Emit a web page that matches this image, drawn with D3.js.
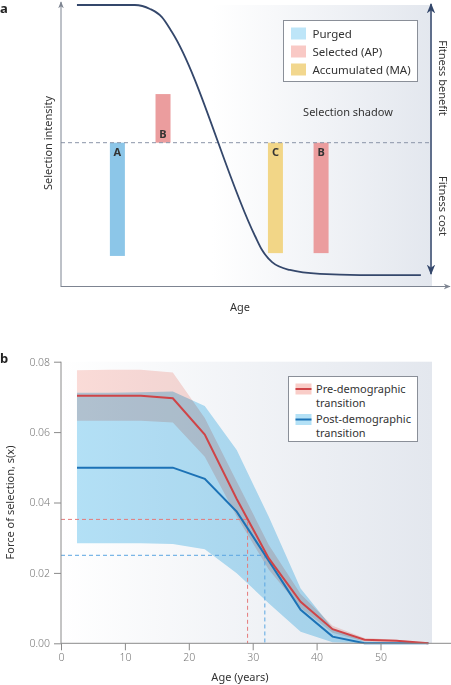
<!DOCTYPE html>
<html>
<head>
<meta charset="utf-8">
<script src="https://cdn.jsdelivr.net/npm/d3@7"></script>
<style>
  body { margin: 0; background: #fff; }
  svg { display: block; font-family: "Noto Sans", "Open Sans", sans-serif; }
</style>
</head>
<body>
<div class="fig"></div>
<script>
// ---- panel a (schematic) ----
const curveX = [4.3, 19.9, 24, 27.2, 29.9, 52.3, 54.2, 56.9, 61.7, 69.8, 80.6, 97];
const curveY = [100, 100, 98.6, 95.7, 90.4, 17.8, 12.8, 8.5, 5.7, 4.3, 3.9, 3.9];
const barLabels = ["A", "B", "C", "B"];
const barKinds = ["Purged", "Selected (AP)", "Accumulated (MA)", "Selected (AP)"];
const barCenters = [15.2, 27.5, 57.8, 70.1];
const barEnds = [10.7, 68.3, 11.7, 11.7];
const neutral = 51;
const legendA = ["Purged", "Selected (AP)", "Accumulated (MA)"];

// ---- panel b (force of selection) ----
const ages = [2.5, 7.5, 12.5, 17.5, 22.5, 27.5, 32.5, 37.5, 42.5, 47.5, 52.5, 57.5];
const preMean = [0.0703, 0.0703, 0.0703, 0.0696, 0.0593, 0.041, 0.0242, 0.0118, 0.004, 0.001, 0.0007, 0];
const preLow  = [0.0632, 0.0632, 0.0632, 0.0627, 0.053, 0.036, 0.021, 0.010, 0.003, 0.0005, 0.0003, 0];
const preHigh = [0.0776, 0.0777, 0.0777, 0.0769, 0.064, 0.046, 0.028, 0.014, 0.005, 0.0015, 0.001, 0];
const postMean = [0.0499, 0.0499, 0.0499, 0.0499, 0.0467, 0.0374, 0.0235, 0.0095, 0.0019, 0, 0, 0];
const postLow  = [0.0284, 0.0284, 0.0284, 0.0282, 0.0267, 0.0199, 0.0114, 0.0033, 0.0003, 0, 0, 0];
const postHigh = [0.0712, 0.0712, 0.0713, 0.0715, 0.0674, 0.0549, 0.036, 0.0156, 0.0043, 0.0005, 0.0002, 0];
const thresholdS = [0.0352, 0.025];
const thresholdAge = [29.2, 31.9];
const legendB = ["Pre-demographic", "Post-demographic"];
const yTicks = [0, 0.02, 0.04, 0.06, 0.08];
const xTicks = [0, 10, 20, 30, 40, 50];

const colors = {
  "Purged": "#8cc6e8", "Selected (AP)": "#eb9d9e", "Accumulated (MA)": "#f2d687"
};
const swatchA = ["#bde5f8", "#f9c9c5", "#f2d78e"];
const red = "#cf4447", blue = "#1c72b6";
const navy = "#34476b";
const fs = '11px';

const svg = d3.select('.fig').append('svg')
    .attr('width', 451)
    .attr('height', 685);

const defs = svg.append('defs');
function fade(id, x1, x2) {
  const g = defs.append('linearGradient').attr('id', id)
      .attr('gradientUnits', 'userSpaceOnUse')
      .attr('x1', x1).attr('x2', x2).attr('y1', 0).attr('y2', 0);
  g.append('stop').attr('offset', 0).attr('stop-color', '#ffffff');
  g.append('stop').attr('offset', 1).attr('stop-color', '#e3e7ee');
}
fade('shadeA', 212, 432);
fade('shadeB', 61, 432);

function arrowHead(id, color) {
  defs.append('marker').attr('id', id)
      .attr('viewBox', '0 0 10 10').attr('refX', 9).attr('refY', 5)
      .attr('markerWidth', 7).attr('markerHeight', 7)
      .attr('orient', 'auto-start-reverse')
      .append('path').attr('d', 'M0,1 L10,5 L0,9 L3,5 Z').attr('fill', color);
}
arrowHead('arrGrey', '#7d8491');
arrowHead('arrNavy', navy);

// ===== panel a =====
const xa = d3.scaleLinear().domain([0, 100]).range([61, 432]);
const ya = d3.scaleLinear().domain([0, 100]).range([286, 5]);

const ga = svg.append('g');
ga.append('rect').attr('x', 212).attr('y', ya(100)).attr('width', 432 - 212)
    .attr('height', ya(0) - ya(100)).attr('fill', 'url(#shadeA)');

ga.append('text').attr('x', 0).attr('y', 13).text('a')
    .style('font-weight', 'bold').style('font-size', '13px').attr('fill', '#222');

// bars
ga.selectAll('rect.bar').data(barLabels).join('rect').attr('class', 'bar')
    .attr('x', (d, i) => xa(barCenters[i]) - 7.5)
    .attr('width', 15)
    .attr('y', (d, i) => ya(Math.max(neutral, barEnds[i])))
    .attr('height', (d, i) => Math.abs(ya(barEnds[i]) - ya(neutral)))
    .attr('fill', (d, i) => colors[barKinds[i]]);

ga.selectAll('text.bl').data(barLabels).join('text').attr('class', 'bl')
    .attr('x', (d, i) => xa(barCenters[i]))
    .attr('y', (d, i) => barEnds[i] > neutral ? ya(neutral) - 5 : ya(neutral) + 13)
    .attr('text-anchor', 'middle')
    .style('font-size', '11px').style('font-weight', 'bold').attr('fill', '#333')
    .text(d => d);

// neutral dashed line
ga.append('line').attr('x1', xa(0)).attr('x2', 432)
    .attr('y1', ya(neutral)).attr('y2', ya(neutral))
    .attr('stroke', '#8a94a8').attr('stroke-width', 1).attr('stroke-dasharray', '4,3');

// curve
const lineA = d3.line().x((d, i) => xa(curveX[i])).y((d, i) => ya(curveY[i]))
    .curve(d3.curveMonotoneX);
ga.append('path').attr('d', lineA(curveX)).attr('fill', 'none')
    .attr('stroke', navy).attr('stroke-width', 1.8);

// axes with arrows
ga.append('line').attr('x1', xa(0)).attr('x2', xa(0)).attr('y1', 287).attr('y2', 2)
    .attr('stroke', '#7d8491').attr('stroke-width', 1).attr('marker-end', 'url(#arrGrey)');
ga.append('line').attr('x1', xa(0)).attr('x2', 450).attr('y1', 286.5).attr('y2', 286.5)
    .attr('stroke', '#7d8491').attr('stroke-width', 1).attr('marker-end', 'url(#arrGrey)');

// fitness double arrow
ga.append('line').attr('x1', 431).attr('x2', 431).attr('y1', 4).attr('y2', 274)
    .attr('stroke', navy).attr('stroke-width', 1.5)
    .attr('marker-start', 'url(#arrNavy)').attr('marker-end', 'url(#arrNavy)');

ga.append('text').attr('transform', 'translate(439,78) rotate(90)')
    .attr('text-anchor', 'middle').style('font-size', fs).attr('fill', '#333')
    .text('Fitness benefit');
ga.append('text').attr('transform', 'translate(439,206) rotate(90)')
    .attr('text-anchor', 'middle').style('font-size', fs).attr('fill', '#333')
    .text('Fitness cost');

ga.append('text').attr('transform', 'translate(52,143) rotate(-90)')
    .attr('text-anchor', 'middle').style('font-size', fs).attr('fill', '#333')
    .text('Selection intensity');
ga.append('text').attr('x', 240).attr('y', 311).attr('text-anchor', 'middle')
    .style('font-size', fs).attr('fill', '#333').text('Age');

ga.append('text').attr('x', 348).attr('y', 116).attr('text-anchor', 'middle')
    .style('font-size', fs).attr('fill', '#333').text('Selection shadow');

// legend a
const lga = ga.append('g').attr('transform', 'translate(283.5,20.5)');
lga.append('rect').attr('width', 134).attr('height', 61)
    .attr('fill', '#fff').attr('stroke', '#8a8f98');
lga.selectAll('rect.sw').data(legendA).join('rect').attr('class', 'sw')
    .attr('x', 7.5).attr('y', (d, i) => 7 + i * 18).attr('width', 15).attr('height', 12)
    .attr('fill', (d, i) => swatchA[i]);
lga.selectAll('text').data(legendA).join('text')
    .attr('x', 29).attr('y', (d, i) => 17 + i * 18)
    .style('font-size', '11.5px').attr('fill', '#333').text(d => d);

// ===== panel b =====
const xb = d3.scaleLinear().domain([0, 58]).range([61, 61 + 58 * 6.39]);
const yb = d3.scaleLinear().domain([0, 0.08]).range([643.3, 361.7]);

const gb = svg.append('g');
gb.append('rect').attr('x', 61).attr('y', yb(0.08)).attr('width', 432 - 61)
    .attr('height', yb(0) - yb(0.08)).attr('fill', 'url(#shadeB)');

gb.append('text').attr('x', 0).attr('y', 363).text('b')
    .style('font-weight', 'bold').style('font-size', '13px').attr('fill', '#222');

const area = (lo, hi) => d3.area()
    .x((d, i) => xb(ages[i])).y0((d, i) => yb(lo[i])).y1((d, i) => yb(hi[i]));

const bands = gb.append('g');
bands.append('path').attr('d', area(preLow, preHigh)(ages))
    .attr('fill', '#fbdcd8').style('mix-blend-mode', 'multiply');
bands.append('path').attr('d', area(postLow, postHigh)(ages))
    .attr('fill', '#b4e1f6').style('mix-blend-mode', 'multiply');

// threshold dashed lines
['#e57a7a', '#5aa6e2'].forEach((col, k) => {
  gb.append('path')
      .attr('d', `M${xb(0)},${yb(thresholdS[k])}H${xb(thresholdAge[k])}V${yb(0)}`)
      .attr('fill', 'none').attr('stroke', col).attr('stroke-width', 1)
      .attr('stroke-dasharray', '4,3');
});

const lineB = ys => d3.line().x((d, i) => xb(ages[i])).y((d, i) => yb(ys[i]));
gb.append('path').attr('d', lineB(postMean)(ages)).attr('fill', 'none')
    .attr('stroke', blue).attr('stroke-width', 2);
gb.append('path').attr('d', lineB(preMean)(ages)).attr('fill', 'none')
    .attr('stroke', red).attr('stroke-width', 2);

// axes
const yAxisB = d3.axisLeft(yb).tickValues(yTicks).tickFormat(d3.format('.2f'))
    .tickSize(7).tickPadding(4);
const xAxisB = d3.axisBottom(xb).tickValues(xTicks).tickSize(7).tickPadding(3);

const yAx = gb.append('g').attr('transform', 'translate(61,0)').call(yAxisB);
const xAx = gb.append('g').attr('transform', `translate(0,${yb(0)})`).call(xAxisB);
[yAx, xAx].forEach(ax => {
  ax.select('.domain').remove();
  ax.selectAll('line').attr('stroke', '#8a8a8a');
  ax.selectAll('text').attr('fill', '#777').style('font-size', '10.5px')
      .style('font-family', '"Noto Sans", sans-serif').style('font-weight', 300);
});
gb.append('line').attr('x1', 61).attr('x2', 61).attr('y1', yb(0.08)).attr('y2', yb(0))
    .attr('stroke', '#8a8a8a');
gb.append('line').attr('x1', 61).attr('x2', 451).attr('y1', yb(0)).attr('y2', yb(0))
    .attr('stroke', '#8a8a8a');

gb.append('text').attr('transform', `translate(14,${(yb(0) + yb(0.08)) / 2}) rotate(-90)`)
    .attr('text-anchor', 'middle').style('font-size', fs).attr('fill', '#333')
    .text('Force of selection, s(x)');
gb.append('text').attr('x', 240).attr('y', 681).attr('text-anchor', 'middle')
    .style('font-size', fs).attr('fill', '#333').text('Age (years)');

// legend b
const lgb = gb.append('g').attr('transform', 'translate(288.5,376.5)');
lgb.append('rect').attr('width', 129).attr('height', 65)
    .attr('fill', '#fff').attr('stroke', '#8a8f98');
const sw = [['#f9cdc8', red], ['#b4e1f6', blue]];
legendB.forEach((name, i) => {
  const y0 = 7 + i * 30.5;
  lgb.append('rect').attr('x', 7).attr('y', y0).attr('width', 16).attr('height', 11)
      .attr('fill', sw[i][0]);
  lgb.append('line').attr('x1', 7).attr('x2', 23).attr('y1', y0 + 5.5).attr('y2', y0 + 5.5)
      .attr('stroke', sw[i][1]).attr('stroke-width', 2);
  lgb.append('text').attr('x', 27.5).attr('y', y0 + 9)
      .style('font-size', '11px').attr('fill', '#333').text(name);
  lgb.append('text').attr('x', 27.5).attr('y', y0 + 23)
      .style('font-size', '11px').attr('fill', '#333').text('transition');
});
</script>
</body>
</html>
